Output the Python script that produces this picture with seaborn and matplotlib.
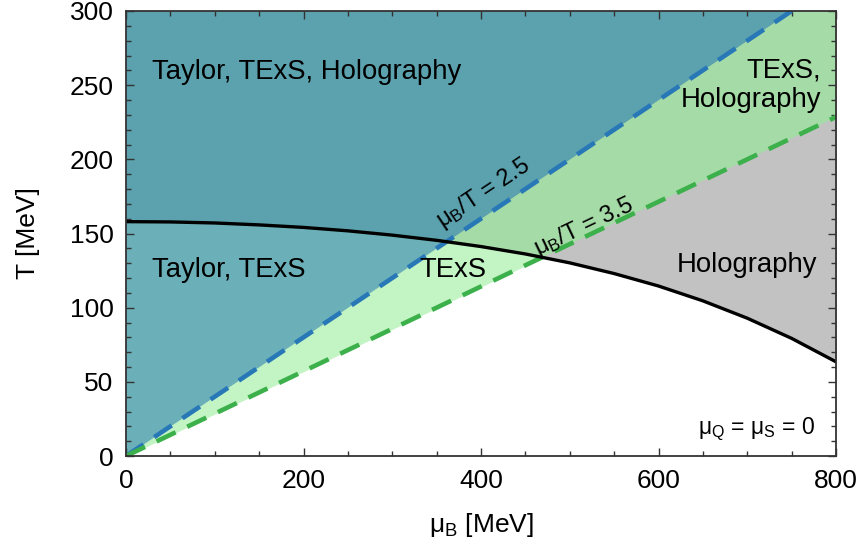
import numpy as np
import matplotlib
matplotlib.use("Agg")
import matplotlib.pyplot as plt
import seaborn as sns

# ---- data ----
mu_cross = [0, 50, 100, 150, 200, 250, 300, 350, 400, 450, 500, 550, 600, 650, 700, 750, 800]
T_cross = [158.0, 157.8, 157.1, 155.8, 154.1, 151.8, 148.9, 145.4, 141.2, 136.2,
           130.2, 123.0, 114.6, 104.6, 92.9, 79.3, 63.5]
ratio_blue = 2.5
ratio_green = 3.5
mu_blue_line = [0, 750]
mu_green_line = [0, 800]
x_ticks = [0, 200, 400, 600, 800]
y_ticks = [0, 50, 100, 150, 200, 250, 300]

c_dark_teal = "#5ba1ae"
c_light_teal = "#6bb0b8"
c_mid_green = "#a5dba6"
c_light_green = "#c3f4c3"
c_grey = "#c2c2c2"
c_blue = "#2878b8"
c_green = "#3cb04a"

sns.set_theme(style="ticks")
plt.rcParams["font.family"] = ["Liberation Sans", "DejaVu Sans"]
plt.rcParams["mathtext.fontset"] = "custom"
plt.rcParams["mathtext.rm"] = "Liberation Sans"
plt.rcParams["mathtext.it"] = "Liberation Sans:italic"
plt.rcParams["text.color"] = "black"
plt.rcParams["axes.labelcolor"] = "black"
plt.rcParams["xtick.color"] = "black"
plt.rcParams["ytick.color"] = "black"

fig = plt.figure(figsize=(8.68, 5.47), dpi=100)
ax = fig.add_axes([126 / 868, 1 - 456 / 547, 710 / 868, 445 / 547])
ax.set_axisbelow(False)

# fill geometry
x = np.linspace(0, 800, 3201)
tc = np.interp(x, mu_cross, T_cross)
tb = np.minimum(x / ratio_blue, 300)
tg = np.minimum(x / ratio_green, 300)
top = np.full_like(x, 300.0)

def fill(lower, upper, color):
    ax.fill_between(x, lower, upper, where=upper > lower, color=color,
                    lw=0.6, edgecolor=color, interpolate=True, zorder=1)

fill(np.maximum(tb, tc), top, c_dark_teal)
fill(tb, tc, c_light_teal)
fill(np.maximum(tg, tc), tb, c_mid_green)
fill(tg, np.minimum(tb, tc), c_light_green)
fill(tc, tg, c_grey)

# lines
sns.lineplot(x=mu_blue_line, y=[m / ratio_blue for m in mu_blue_line], ax=ax,
             color=c_blue, lw=3.3, linestyle=(0, (4.6, 2.8)), zorder=3)
sns.lineplot(x=mu_green_line, y=[m / ratio_green for m in mu_green_line], ax=ax,
             color=c_green, lw=3.3, linestyle=(0, (4.6, 2.8)), zorder=3)
sns.lineplot(x=mu_cross, y=T_cross, ax=ax, color="black", lw=2.4, zorder=4)

ax.set_xlim(0, 800)
ax.set_ylim(0, 300)
ax.set_xticks(x_ticks)
ax.set_yticks(y_ticks)
ax.set_xticks(np.arange(0, 801, 50), minor=True)
ax.set_yticks(np.arange(0, 301, 10), minor=True)
ax.tick_params(which="both", direction="in", top=True, right=True, width=1.0, color="#333333",
               labelcolor="black")
ax.tick_params(which="major", length=6, labelsize=19, pad=9)
ax.tick_params(which="minor", length=3.5)
for s in ax.spines.values():
    s.set_linewidth(1.3)
    s.set_color("#333333")
    s.set_zorder(5)

ax.set_xlabel(r"μ$_\mathregular{B}$ [MeV]", fontsize=19, labelpad=13)
ax.set_ylabel("T [MeV]", fontsize=19, labelpad=21)

fs = 19.8
ax.text(29, 259, "Taylor, TExS, Holography", fontsize=fs, va="center", ha="left", zorder=6)
ax.text(29, 125.5, "Taylor, TExS", fontsize=fs, va="center", ha="left", zorder=6)
ax.text(331, 125.5, "TExS", fontsize=fs, va="center", ha="left", zorder=6)
ax.text(783, 250, "TExS,\nHolography", fontsize=fs, va="center", ha="right",
        multialignment="right", linespacing=1.15, zorder=6)
ax.text(779, 128.5, "Holography", fontsize=fs, va="center", ha="right", zorder=6)
ax.text(403, 177, r"μ$_\mathregular{B}$/T = 2.5", fontsize=17, rotation=33.7,
        rotation_mode="anchor", ha="center", va="center", zorder=6)
ax.text(516, 154, r"μ$_\mathregular{B}$/T = 3.5", fontsize=17, rotation=25.5,
        rotation_mode="anchor", ha="center", va="center", zorder=6)
ax.text(777, 18, r"μ$_\mathregular{Q}$ = μ$_\mathregular{S}$ = 0", fontsize=16.5,
        ha="right", va="center", zorder=6)

fig.savefig("out.png", dpi=100)
